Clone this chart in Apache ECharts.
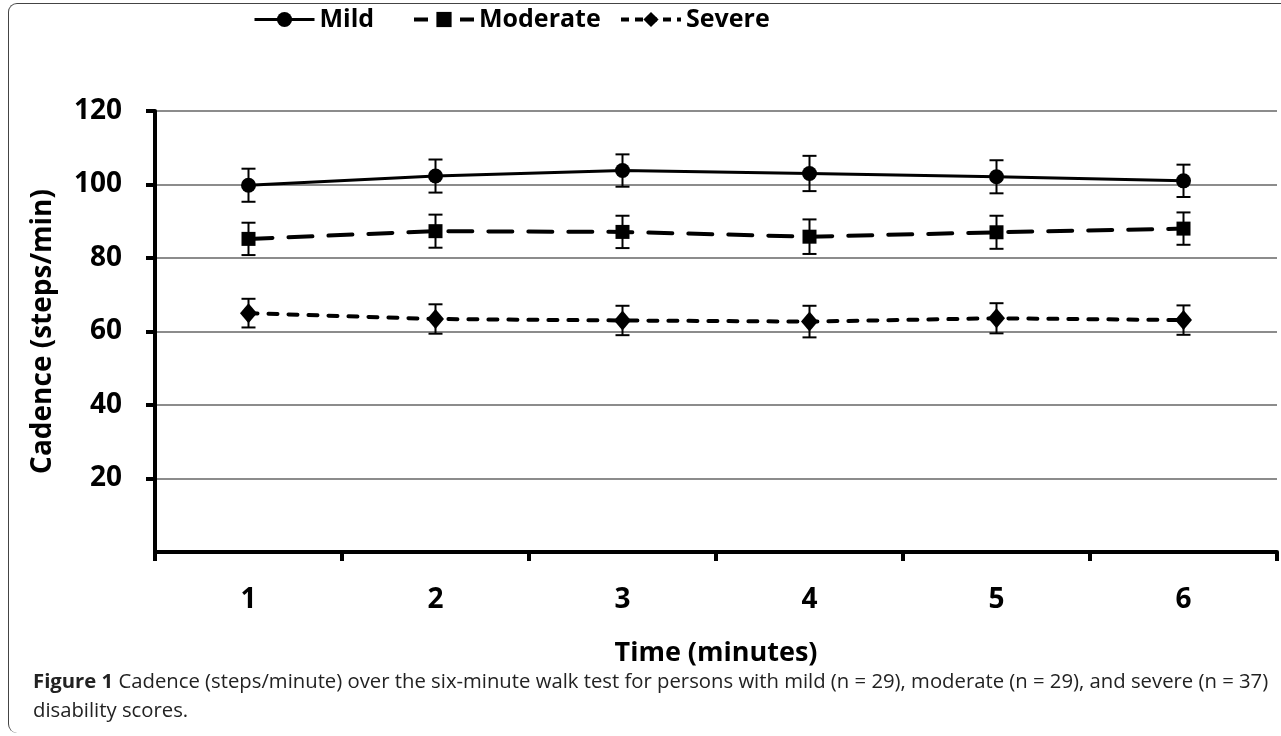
<!DOCTYPE html>
<html>
<head>
  <meta charset="UTF-8">
  <title>Cadence</title>
  <style>
  html, body {
    margin: 0;
    padding: 0;
    background: #fff;
  }
  #frame {
    position: absolute;
    left: 8px;
    top: 3px;
    width: 1290px;
    height: 729px;
    border-left: 1.5px solid #444;
    border-top: 1.5px solid #444;
    border-radius: 9px 0 0 9px;
  }
  #chart {
    position: absolute;
    left: 0;
    top: 0;
    width: 1281px;
    height: 736px;
  }
  </style>
  <script src="https://cdn.jsdelivr.net/npm/echarts@6/dist/echarts.min.js"></script>
</head>
<body>
  <div id="frame"></div>
  <div id="chart"></div>
  <script type="text/javascript">
  // data
  var minutes = ['1', '2', '3', '4', '5', '6'];
  var mild = [99.8, 102.3, 103.8, 103.0, 102.1, 101.0];
  var mildSd = [4.5, 4.5, 4.4, 4.8, 4.5, 4.4];
  var moderate = [85.2, 87.3, 87.1, 85.8, 87.0, 88.0];
  var moderateSd = [4.4, 4.5, 4.4, 4.7, 4.5, 4.4];
  var severe = [65.0, 63.4, 63.0, 62.7, 63.6, 63.1];
  var severeSd = [3.9, 4.0, 4.0, 4.3, 4.1, 4.0];
  var yTicks = [0, 20, 40, 60, 80, 100, 120];

  var font = '"Open Sans", "Noto Sans", sans-serif';

  function errData(vals, sds) {
    return vals.map(function (v, i) {
      return [i, v - sds[i], v + sds[i]];
    });
  }

  // whiskers with caps
  function renderErr(params, api) {
    var x = api.value(0);
    var lo = api.coord([x, api.value(1)]);
    var hi = api.coord([x, api.value(2)]);
    var w = 7;
    var style = { stroke: '#000', lineWidth: 2 };
    return {
      type: 'group',
      children: [
        { type: 'line', shape: { x1: lo[0], y1: lo[1], x2: hi[0], y2: hi[1] }, style: style },
        { type: 'line', shape: { x1: lo[0] - w, y1: lo[1], x2: lo[0] + w, y2: lo[1] }, style: style },
        { type: 'line', shape: { x1: hi[0] - w, y1: hi[1], x2: hi[0] + w, y2: hi[1] }, style: style }
      ]
    };
  }

  function legendAt(name, left, lineStyle) {
    return {
      left: left,
      top: 2,
      itemWidth: 60,
      itemHeight: 19,
      textStyle: {
        fontFamily: font,
        fontSize: 25,
        fontWeight: 'bold',
        color: '#000'
      },
      data: [{ name: name, lineStyle: lineStyle }]
    };
  }

  var myChart = echarts.init(document.getElementById('chart'));

  var option = {
    animation: false,
    backgroundColor: 'transparent',
    color: ['#000', '#000', '#000'],
    title: {
      left: 28,
      top: 663,
      text: '{b|Figure 1} Cadence (steps/minute) over the six-minute walk test for persons with mild (n = 29), moderate (n = 29), and severe (n = 37)\ndisability scores.',
      textStyle: {
        fontFamily: font,
        fontSize: 20.3,
        fontWeight: 'normal',
        color: '#222',
        lineHeight: 29,
        rich: {
          b: { fontFamily: font, fontSize: 20.3, fontWeight: 'bold', color: '#222', lineHeight: 29 }
        }
      }
    },
    legend: [
      legendAt('Mild', 248, { width: 3, type: 'solid' }),
      legendAt('Moderate', 407, { width: 4, type: [14, 9], cap: 'butt' }),
      legendAt('Severe', 614, { width: 4, type: [8, 6], cap: 'butt' })
    ],
    grid: {
      left: 155,
      right: 4,
      top: 111,
      bottom: 184
    },
    xAxis: {
      type: 'category',
      data: minutes,
      boundaryGap: true,
      name: 'Time (minutes)',
      nameLocation: 'middle',
      nameGap: 88,
      nameTextStyle: {
        fontFamily: font,
        fontSize: 27,
        fontWeight: 'bold',
        color: '#000'
      },
      axisLine: { lineStyle: { color: '#000', width: 4 } },
      axisTick: { show: true, length: 9, lineStyle: { color: '#000', width: 4 } },
      axisLabel: {
        margin: 34,
        fontFamily: font,
        fontSize: 28,
        fontWeight: 'bold',
        color: '#000'
      },
      splitLine: { show: false }
    },
    yAxis: {
      type: 'value',
      min: yTicks[0],
      max: yTicks[yTicks.length - 1],
      interval: 20,
      name: 'Cadence (steps/min)',
      nameLocation: 'middle',
      nameGap: 98,
      nameTextStyle: {
        fontFamily: font,
        fontSize: 28,
        fontWeight: 'bold',
        color: '#000'
      },
      axisLine: { show: true, lineStyle: { color: '#000', width: 4 } },
      axisTick: { show: true, length: 9, lineStyle: { color: '#000', width: 4 } },
      axisLabel: {
        margin: 33,
        showMinLabel: false,
        fontFamily: font,
        fontSize: 28,
        fontWeight: 'bold',
        color: '#000'
      },
      splitLine: { show: true, lineStyle: { color: '#8c8c8c', width: 2 } }
    },
    series: [{
      name: 'Mild',
      type: 'line',
      data: mild,
      symbol: 'circle',
      symbolSize: 15,
      z: 5,
      itemStyle: { color: '#000' },
      lineStyle: { color: '#000', width: 3 }
    }, {
      name: 'Moderate',
      type: 'line',
      data: moderate,
      symbol: 'rect',
      symbolSize: 14,
      z: 5,
      itemStyle: { color: '#000' },
      lineStyle: { color: '#000', width: 4, type: [24, 16], cap: 'round' }
    }, {
      name: 'Severe',
      type: 'line',
      data: severe,
      symbol: 'diamond',
      symbolSize: [17, 20],
      z: 5,
      itemStyle: { color: '#000' },
      lineStyle: { color: '#000', width: 4, type: [9, 11], cap: 'round' }
    }, {
      type: 'custom',
      renderItem: renderErr,
      data: errData(mild, mildSd),
      z: 4,
      silent: true
    }, {
      type: 'custom',
      renderItem: renderErr,
      data: errData(moderate, moderateSd),
      z: 4,
      silent: true
    }, {
      type: 'custom',
      renderItem: renderErr,
      data: errData(severe, severeSd),
      z: 4,
      silent: true
    }]
  };

  myChart.setOption(option);
  </script>
</body>
</html>
